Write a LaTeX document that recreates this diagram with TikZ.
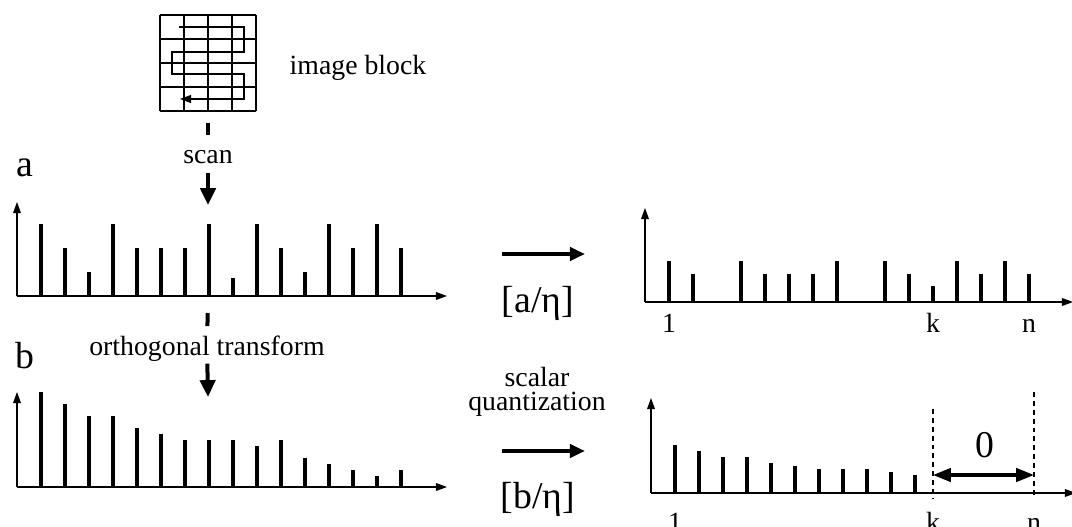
\documentclass[tikz,border=0pt]{standalone}
\usepackage{fontspec}
\setmainfont{Liberation Serif}
\usetikzlibrary{arrows.meta}

\begin{document}
\begin{tikzpicture}[x=0.45pt, y=-0.45pt,
  axis/.style={line width=0.5pt, -{Triangle[length=5pt,width=3.5pt]}},
  stem/.style={line width=1.8pt},
  gridln/.style={line width=0.7pt},
  link/.style={line width=1.8pt},
  arr/.style={line width=1.8pt, -{Triangle[length=7.6pt,width=6.8pt]}},
  harr/.style={line width=1.8pt, -{Triangle[length=6.8pt,width=5.9pt]}},
  zero/.style={line width=1.4pt, {Triangle[length=8pt,width=6pt]}-{Triangle[length=8pt,width=6pt]}},
  guide/.style={line width=0.5pt, dash pattern=on 2.2pt off 1.8pt},
  lab/.style={font=\fontsize{12.5}{11}\selectfont, inner sep=0pt},
  big/.style={font=\fontsize{17}{20}\selectfont, inner sep=0pt}]
  \useasboundingbox (0,0) rectangle (1072,527);
  % image block and scan path
  \foreach \g in {0,...,4}{
    \draw[gridln] (160+24*\g,15) -- (160+24*\g,111);
    \draw[gridln] (160,15+24*\g) -- (256,15+24*\g);}
  \draw[line width=0.5pt, -{Triangle[length=5pt,width=3.6pt]}]
    (179,27) -- (244,27) -- (244,52) -- (172,52) -- (172,74) -- (244,74) -- (244,99) -- (180,99);
  \coordinate (blk) at (208,111);
  \node[lab, anchor=base] (blkname) at (358,75) {image block};
  % scan
  \node[lab, anchor=base] (scan) at (208,164) {scan};
  \coordinate (ain) at (208,205);
  \draw[link, shorten <=5.4pt, shorten >=6.75pt] (blk) -- (scan);
  \draw[arr, shorten <=3.6pt] (scan) -- (ain);
  % signal a
  \node[big, anchor=base] (alab) at (25,177) {a};
  \coordinate (ao) at (17,296);
  \draw[axis] (ao) -- ++(0,-94);
  \draw[axis] (ao) -- ++(430,0);
  \foreach \h [count=\k] in {72,48,24,72,48,48,48,72,18,72,48,24,72,48,72,48}
    \draw[stem] (17+24*\k,296) -- ++(0,-\h);
  % orthogonal transform
  \coordinate (amid) at (208,296);
  \coordinate (bin) at (208,397);
  \node[lab, anchor=base] (ortho) at (207,355) {orthogonal transform};
  \draw[link, shorten <=7.65pt, shorten >=4pt] (amid) -- (ortho);
  \draw[arr, shorten <=1pt] (ortho) -- (bin);
  % signal b
  \node[big, anchor=base] (blab) at (25,368) {b};
  \coordinate (bo) at (17,487);
  \draw[axis] (bo) -- ++(0,-95);
  \draw[axis] (bo) -- ++(430,0);
  \foreach \h [count=\k] in {95,83,71,71,59,53,47,47,47,41,47,29,23,17,11,17}
    \draw[stem] (17+24*\k,487) -- ++(0,-\h);
  % scalar quantization
  \coordinate (qa1) at (502,254);
  \coordinate (qa2) at (585,254);
  \coordinate (qb1) at (502,451);
  \coordinate (qb2) at (585,451);
  \draw[harr] (qa1) -- (qa2);
  \draw[harr] (qb1) -- (qb2);
  \node[big, anchor=base] (qa) at (538,312) {[a/η]};
  \node[lab, align=center] (sq) at (537,392) {scalar\\quantization};
  \node[big, anchor=base] (qb) at (538,508) {[b/η]};
  % quantized a
  \coordinate (co) at (645,302);
  \draw[axis] (co) -- ++(0,-94);
  \draw[axis] (co) -- ++(428,0);
  \foreach \k/\h in {1/41,2/28,4/41,5/28,6/28,7/28,8/41,10/41,11/28,12/16,13/41,14/28,15/41,16/28}
    \draw[stem] (645+24*\k,302) -- ++(0,-\h);
  \node[lab, anchor=base] (c1) at (669,332) {1};
  \node[lab, anchor=base] (ck) at (933,332) {k};
  \node[lab, anchor=base] (cn) at (1029,332) {n};
  % quantized b
  \coordinate (do) at (651,493);
  \draw[axis] (do) -- ++(0,-95);
  \draw[axis] (do) -- ++(425,0);
  \foreach \h [count=\k] in {48,42,36,36,30,27,24,24,24,21,18}
    \draw[stem] (651+24*\k,493) -- ++(0,-\h);
  \coordinate (kt) at (933,409);
  \coordinate (kb) at (933,498);
  \coordinate (nt) at (1034,392);
  \coordinate (nb) at (1034,498);
  \draw[guide] (kt) -- (kb);
  \draw[guide] (nt) -- (nb);
  \coordinate (kz) at (933,475);
  \coordinate (nz) at (1034,475);
  \draw[zero] (kz) -- (nz);
  \node[big, anchor=base] (zr) at (985,457) {0};
  \node[lab, anchor=base] (d1) at (675,531) {1};
  \node[lab, anchor=base] (dk) at (933,531) {k};
  \node[lab, anchor=base] (dn) at (1034,531) {n};
\end{tikzpicture}
\end{document}
